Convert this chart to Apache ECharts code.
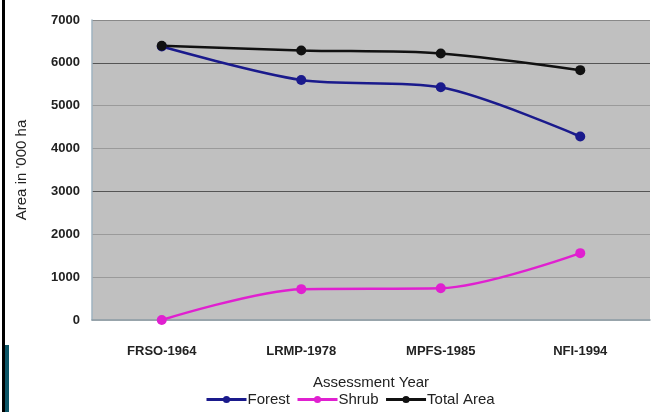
<!DOCTYPE html>
<html>
<head>
<meta charset="utf-8">
<script src="https://cdn.jsdelivr.net/npm/echarts@6/dist/echarts.min.js"></script>
<style>
  html, body { margin: 0; padding: 0; background: #fff; }
  #chart { width: 657px; height: 412px; }
</style>
</head>
<body>
<div id="chart"></div>
<script>
// Assessment years and area figures ('000 ha)
const categories = ['FRSO-1964', 'LRMP-1978', 'MPFS-1985', 'NFI-1994'];
const forest = [6380, 5600, 5430, 4280];
const shrub = [0, 720, 740, 1560];
const totalArea = [6400, 6290, 6220, 5830];
const yTicks = [0, 1000, 2000, 3000, 4000, 5000, 6000, 7000];

const chart = echarts.init(document.getElementById('chart'));
const FONT = 'Liberation Sans, Arial, sans-serif';
const labelFont = { fontFamily: FONT, fontWeight: 'bold', color: '#222' };

function lineSeries(name, data, color) {
  return {
    name, type: 'line', data, smooth: 0.3,
    symbol: 'circle', symbolSize: 10,
    lineStyle: { color, width: 2.5 },
    itemStyle: { color },
    z: 3
  };
}

chart.setOption({
  backgroundColor: '#fff',
  animation: false,
  grid: { left: 92, right: 7, top: 20, bottom: 92, backgroundColor: '#c0c0c0', show: true, borderWidth: 0 },
  xAxis: {
    type: 'category', data: categories, boundaryGap: true,
    axisLine: { lineStyle: { color: '#8a9aa4', width: 1.5 } },
    axisTick: { show: false },
    axisLabel: Object.assign({ fontSize: 13, margin: 25 }, labelFont),
    name: 'Assessment Year', nameLocation: 'middle', nameGap: 55,
    nameTextStyle: { fontFamily: FONT, fontSize: 15, color: '#222' }
  },
  yAxis: {
    type: 'value', min: yTicks[0], max: yTicks[yTicks.length - 1], interval: 1000,
    axisLine: { show: true, lineStyle: { color: '#9fb3c0', width: 1.5 } },
    axisTick: { show: false },
    axisLabel: Object.assign({ fontSize: 13, margin: 12, formatter: v => String(v) }, labelFont),
    splitLine: { lineStyle: { color: ['#c0c0c0', '#9a9a9a', '#9a9a9a', '#555', '#9a9a9a', '#9a9a9a', '#555', '#888'], width: 1.2 } },
    name: "Area in '000 ha", nameLocation: 'middle', nameGap: 63, nameRotate: 90,
    nameTextStyle: { fontFamily: FONT, fontSize: 15, color: '#222' }
  },
  legend: {
    bottom: 0, left: 200, itemGap: 6, itemWidth: 40, itemHeight: 9,
    lineStyle: { width: 3 },
    textStyle: { fontFamily: FONT, fontSize: 15, color: '#222', padding: [0, 0, 0, -4] },
    data: ['Forest', 'Shrub', 'Total Area']
  },
  series: [
    lineSeries('Forest', forest, '#1a1a8c'),
    lineSeries('Shrub', shrub, '#e020d0'),
    lineSeries('Total Area', totalArea, '#111')
  ],
  graphic: [
    { type: 'rect', left: 2, top: 0, shape: { width: 3, height: 412 }, style: { fill: '#000' } },
    { type: 'rect', left: 5, top: 345, shape: { width: 4, height: 67 }, style: { fill: '#0d5566' } }
  ]
});
</script>
</body>
</html>
